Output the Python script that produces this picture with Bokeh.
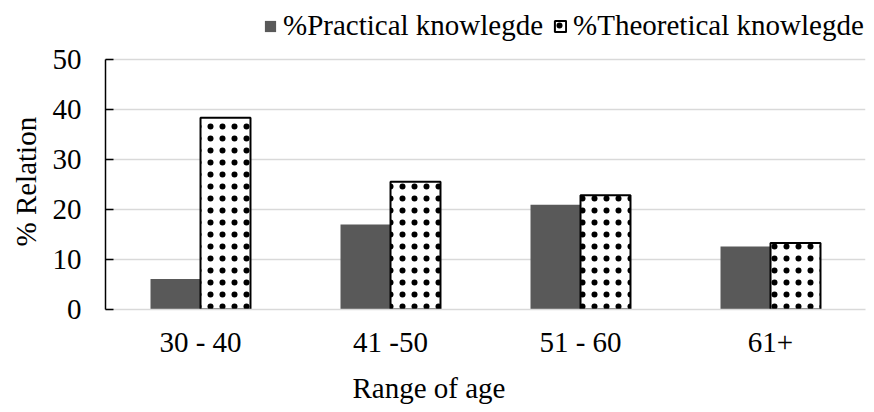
from bokeh.plotting import figure
from bokeh.models import (FactorRange, Range1d, FixedTicker, Legend, LegendItem,
                          Title, ColumnDataSource)
from bokeh.transform import dodge
from bokeh.embed import file_html
from bokeh.resources import INLINE

categories = ["30 - 40", "41 -50", "51 - 60", "61+"]
practical = [6.1, 17.0, 20.9, 12.6]
theoretical = [38.3, 25.5, 22.8, 13.3]
y_ticks = [0, 10, 20, 30, 40, 50]
series_names = ["%Practical knowlegde", "%Theoretical knowlegde"]
x_title = "Range of age"
y_title = "% Relation"

FONT = "Liberation Serif"
FS = "29px"

src = ColumnDataSource(dict(cat=categories, prac=practical, theo=theoretical))

# frame spans the full height above the x axis so the legend can sit inside it;
# the y axis itself is bounded to 0..50
p = figure(x_range=FactorRange(*categories, range_padding=0),
           y_range=Range1d(0, 61.72),
           width=874, height=412, output_backend="svg", toolbar_location=None,
           min_border_left=105, min_border_right=9, min_border_top=0,
           min_border_bottom=96)
p.outline_line_color = None
p.background_fill_color = "white"
p.border_fill_color = "white"

r1 = p.vbar(x=dodge("cat", -0.1316, range=p.x_range), top="prac", width=0.263,
            source=src, fill_color="#595959", line_color=None)
r2 = p.vbar(x=dodge("cat", 0.1316, range=p.x_range), top="theo", width=0.263,
            source=src, fill_color="white", line_color="black", line_width=2,
            hatch_pattern="dot", hatch_color="black", hatch_scale=12,
            hatch_weight=1)

# y axis
ya = p.yaxis[0]
ya.ticker = FixedTicker(ticks=y_ticks)
ya.bounds = (0, 50)
ya.major_label_text_font = FONT
ya.major_label_text_font_size = FS
ya.major_label_text_color = "black"
ya.major_label_standoff = 24
ya.axis_line_color = "black"
ya.axis_line_width = 1.5
ya.major_tick_in = 8
ya.major_tick_out = 0
ya.major_tick_line_color = "black"
ya.major_tick_line_width = 1.5
ya.minor_tick_line_color = None

# y axis title, centred on the 0..50 span
p.add_layout(Title(text=y_title, align="left", vertical_align="top", offset=63,
                   text_font=FONT, text_font_size=FS, text_font_style="normal",
                   text_color="black", standoff=12), "left")

# x axis
xa = p.xaxis[0]
xa.major_label_text_font = FONT
xa.major_label_text_font_size = FS
xa.major_label_text_color = "black"
xa.major_label_standoff = 10
xa.axis_line_color = "#d9d9d9"
xa.axis_line_width = 1.5
xa.major_tick_line_color = None
xa.minor_tick_line_color = None

p.xgrid.grid_line_color = None
p.ygrid.grid_line_color = "#d9d9d9"
p.ygrid.grid_line_width = 1.5

p.add_layout(Title(text=x_title, align="left", offset=247, text_font=FONT,
                   text_font_size=FS, text_font_style="normal",
                   text_color="black", standoff=18), "below")

legend = Legend(items=[LegendItem(label=series_names[0], renderers=[r1]),
                       LegendItem(label=series_names[1], renderers=[r2])],
                orientation="horizontal", location=(158, 267),
                glyph_width=14, glyph_height=14, label_standoff=6, spacing=10,
                padding=0, margin=0, border_line_color=None,
                background_fill_alpha=0, label_text_font=FONT,
                label_text_font_size=FS, label_text_color="black")
p.add_layout(legend)

open("out.html", "w").write(file_html(p, INLINE))
